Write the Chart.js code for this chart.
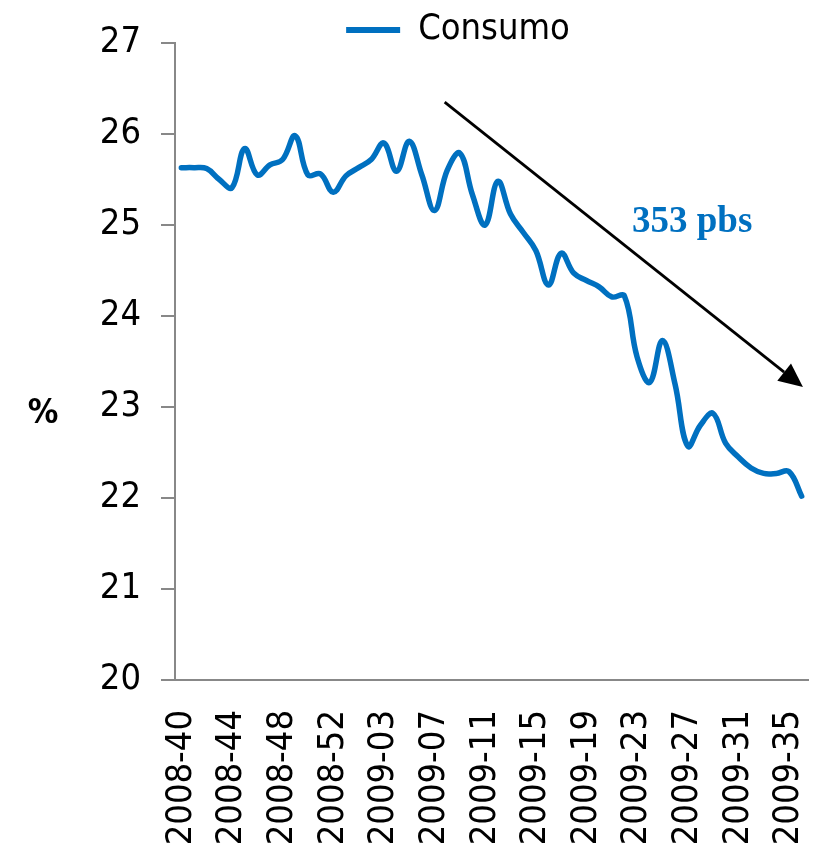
<!DOCTYPE html>
<html>
<head>
<meta charset="utf-8">
<script src="https://cdn.jsdelivr.net/npm/chart.js@4.4.1/dist/chart.umd.min.js"></script>
<style>
  html, body { margin: 0; padding: 0; background: #fff; }
</style>
</head>
<body>
<canvas id="chart" width="819" height="853"></canvas>
<script>
const weeks = [
    '2008-40', '2008-41', '2008-42', '2008-43', '2008-44', '2008-45', '2008-46', '2008-47',
    '2008-48', '2008-49', '2008-50', '2008-51', '2008-52', '2008-53',
    '2009-01', '2009-02', '2009-03', '2009-04', '2009-05', '2009-06', '2009-07', '2009-08',
    '2009-09', '2009-10', '2009-11', '2009-12', '2009-13', '2009-14', '2009-15', '2009-16',
    '2009-17', '2009-18', '2009-19', '2009-20', '2009-21', '2009-22', '2009-23', '2009-24',
    '2009-25', '2009-26', '2009-27', '2009-28', '2009-29', '2009-30', '2009-31', '2009-32',
    '2009-33', '2009-34', '2009-35', '2009-36'
]
const consumo = [
    25.63, 25.63, 25.62, 25.50, 25.41, 25.84, 25.55, 25.66, 25.72, 25.98,
    25.55, 25.56, 25.36, 25.54, 25.63, 25.72, 25.90, 25.59, 25.92, 25.55,
    25.16, 25.60, 25.79, 25.33, 25.00, 25.48, 25.12, 24.92, 24.72, 24.34,
    24.69, 24.47, 24.39, 24.32, 24.21, 24.22, 23.55, 23.27, 23.73, 23.25,
    22.57, 22.80, 22.93, 22.60, 22.45, 22.33, 22.27, 22.27, 22.29, 22.02
]
const seriesName = 'Consumo'
const yMin = 20
const yMax = 27
const labelEvery = 4
const noteText = '353 pbs'
const axisTitle = '%'

// annotation anchors in data units (category index, value)
const arrowFrom = [20.8, 26.35]
const arrowTo = [49.1, 23.22]
const notePos = [40.35, 25.03]
const titlePos = 22.92

const blue = '#0070C0'
const axisGrey = '#888888'
const sans = '"DejaVu Sans Condensed", "DejaVu Sans", sans-serif'

const annotations = {
    id: 'annotations',
    afterLayout(chart) {
        // move the legend to where the original sits: centred over x≈458, a bit lower
        const lg = chart.legend
        const dx = 458 - (lg.left + lg.right) / 2
        lg.left += dx
        lg.right += dx
        lg.top += 15
        lg.bottom += 15
    },
    afterDatasetsDraw(chart) {
        const { ctx, scales: { x, y }, chartArea } = chart
        const x0 = x.getPixelForValue(arrowFrom[0]), y0 = y.getPixelForValue(arrowFrom[1])
        const x1 = x.getPixelForValue(arrowTo[0]), y1 = y.getPixelForValue(arrowTo[1])
        const ang = Math.atan2(y1 - y0, x1 - x0)
        const head = 24, half = 11
        const bx = x1 - head * Math.cos(ang), by = y1 - head * Math.sin(ang)
        ctx.save()
        ctx.strokeStyle = '#000'
        ctx.fillStyle = '#000'
        ctx.lineWidth = 2.8
        ctx.beginPath()
        ctx.moveTo(x0, y0)
        ctx.lineTo(bx, by)
        ctx.stroke()
        ctx.beginPath()
        ctx.moveTo(x1, y1)
        ctx.lineTo(bx + half * Math.sin(ang), by - half * Math.cos(ang))
        ctx.lineTo(bx - half * Math.sin(ang), by + half * Math.cos(ang))
        ctx.closePath()
        ctx.fill()

        ctx.fillStyle = blue
        ctx.font = 'bold 37px "Liberation Serif", serif'
        ctx.textAlign = 'center'
        ctx.textBaseline = 'middle'
        ctx.fillText(noteText, x.getPixelForValue(notePos[0]), y.getPixelForValue(notePos[1]))

        ctx.fillStyle = '#000'
        ctx.font = 'bold 34px ' + sans
        ctx.fillText(axisTitle, chartArea.left - 132, y.getPixelForValue(titlePos))
        ctx.restore()
    }
}

const ctx = document.getElementById('chart').getContext('2d')
const chart = new Chart(ctx, {
    type: 'line',
    data: {
        labels: weeks,
        datasets: [{
            label: seriesName,
            data: consumo,
            borderColor: blue,
            backgroundColor: blue,
            borderWidth: 5.5,
            tension: 0.4,
            pointRadius: 0,
            borderCapStyle: 'round',
            borderJoinStyle: 'round',
            fill: false
        }]
    },
    options: {
        responsive: false,
        animation: false,
        layout: { padding: { left: 60, right: 11, top: -3, bottom: 0 } },
        plugins: {
            tooltip: { enabled: false },
            legend: {
                position: 'top',
                labels: {
                    color: '#000',
                    font: { size: 36, family: sans },
                    boxWidth: 54,
                    boxHeight: 6,
                    padding: 0,
                    generateLabels: c => Chart.defaults.plugins.legend.labels.generateLabels(c)
                        .map(l => ({ ...l, lineWidth: 0 }))
                }
            }
        },
        scales: {
            x: {
                offset: true,
                grid: { display: false, drawTicks: false },
                border: { display: true, color: axisGrey, width: 2 },
                afterFit: s => { s.height = 173; s.paddingLeft = 0; s.paddingRight = 0 },
                ticks: {
                    autoSkip: false,
                    maxRotation: 90,
                    minRotation: 90,
                    padding: 30,
                    color: '#000',
                    font: { size: 36, family: sans },
                    callback: function (val, i) {
                        return i % labelEvery === 0 ? this.getLabelForValue(val) : ''
                    }
                }
            },
            y: {
                min: yMin,
                max: yMax,
                grid: { drawOnChartArea: false, tickLength: 14, color: axisGrey, lineWidth: 2 },
                border: { display: true, color: axisGrey, width: 2 },
                afterFit: s => { s.width = 115 },
                ticks: {
                    stepSize: 1,
                    padding: 20,
                    color: '#000',
                    font: { size: 36, family: sans }
                }
            }
        }
    },
    plugins: [annotations]
})
</script>
</body>
</html>
